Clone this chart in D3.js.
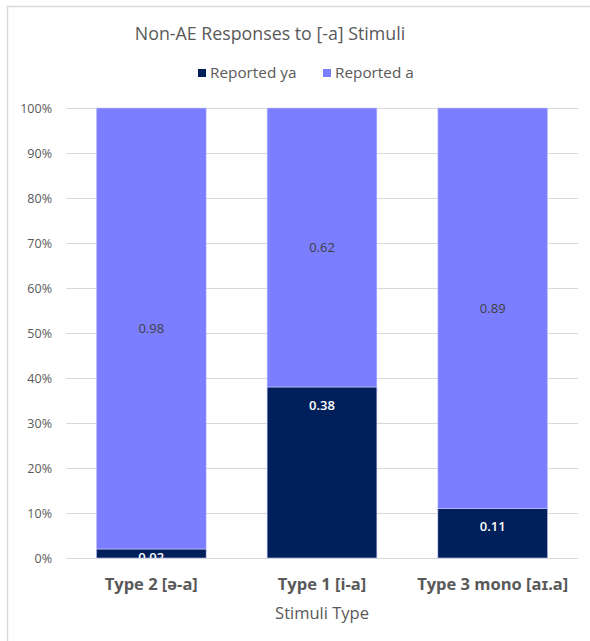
<!DOCTYPE html>
<html>
<head>
<meta charset="utf-8">
<script src="https://cdn.jsdelivr.net/npm/d3@7"></script>
<style>
  html, body { margin: 0; padding: 0; background: #fff; }
  svg { display: block; font-family: "Open Sans", "Noto Sans", sans-serif; }
</style>
</head>
<body>
<svg id="chart" width="590" height="641"></svg>
<script>
// Stimulus categories along the x axis
const categories = ["Type 2 [ə-a]", "Type 1 [i-a]", "Type 3 mono [aɪ.a]"];
// Proportion of responses per category, stacked bottom to top
const reportedYa = [0.02, 0.38, 0.11];
const reportedA  = [0.98, 0.62, 0.89];
const seriesNames = ["Reported ya", "Reported a"];
const seriesColors = ["#00205b", "#7b7fff"];
const yTicks = [0, 0.1, 0.2, 0.3, 0.4, 0.5, 0.6, 0.7, 0.8, 0.9, 1.0];

const svg = d3.select("#chart");
const W = 590, H = 641;
const margin = { left: 66, right: 12, top: 108, bottom: 83 };

// Chart frame (top and left edges visible)
svg.append("line").attr("x1", 7).attr("x2", W).attr("y1", 6.5).attr("y2", 6.5)
  .attr("stroke", "#d9d9d9").attr("stroke-width", 1.5);
svg.append("line").attr("x1", 7.5).attr("x2", 7.5).attr("y1", 6).attr("y2", H)
  .attr("stroke", "#d9d9d9").attr("stroke-width", 1.5);

const x = d3.scaleBand().domain(categories)
  .range([margin.left, W - margin.right]).paddingInner(0.357).paddingOuter(0.178);
const y = d3.scaleLinear().domain([0, 1]).range([H - margin.bottom, margin.top]);

// Gridlines
svg.append("g").selectAll("line").data(yTicks).join("line")
  .attr("x1", margin.left).attr("x2", W - margin.right)
  .attr("y1", d => Math.round(y(d)) + 0.5).attr("y2", d => Math.round(y(d)) + 0.5)
  .attr("stroke", "#d9d9d9").attr("stroke-width", 1);

// Y axis labels
const yAxis = d3.axisLeft(y).tickValues(yTicks).tickFormat(d3.format(".0%")).tickSize(0).tickPadding(14);
const yg = svg.append("g").attr("transform", `translate(${margin.left},0)`).call(yAxis);
yg.select(".domain").remove();
yg.selectAll("text").attr("fill", "#595959").style("font-size", "12.5px")
  .style("font-family", "'Open Sans', sans-serif");

// Stack the two series
const rows = categories.map((c, i) => ({ cat: c, ya: reportedYa[i], a: reportedA[i] }));
const stack = d3.stack().keys(["ya", "a"]);
const stacked = stack(rows);

const clip = svg.append("defs").append("clipPath").attr("id", "plotClip");
clip.append("rect").attr("x", margin.left).attr("y", margin.top - 2)
  .attr("width", W - margin.left - margin.right).attr("height", H - margin.top - margin.bottom + 2);

const bars = svg.append("g");
stacked.forEach((layer, li) => {
  bars.append("g").selectAll("rect").data(layer).join("rect")
    .attr("x", d => x(d.data.cat))
    .attr("width", x.bandwidth())
    .attr("y", d => y(d[1]))
    .attr("height", d => y(d[0]) - y(d[1]))
    .attr("fill", seriesColors[li])
    .attr("stroke", "#c8caff").attr("stroke-width", 0.6);
});

// Value labels
const labels = svg.append("g").attr("clip-path", "url(#plotClip)")
  .style("font-size", "13px").attr("text-anchor", "middle");
// "Reported ya" labels sit near the top of the dark segment
labels.selectAll("text.ya").data(stacked[0]).join("text")
  .attr("class", "ya")
  .attr("x", d => x(d.data.cat) + x.bandwidth() / 2)
  .attr("y", d => Math.min(y(d[1]) + 18, y(0) - 1))
  .attr("dy", "0.35em")
  .attr("fill", "#ffffff")
  .style("font-weight", "600")
  .text(d => d3.format(".2f")(d[1] - d[0]));
// "Reported a" labels centred in the light segment
labels.selectAll("text.a").data(stacked[1]).join("text")
  .attr("class", "a")
  .attr("x", d => x(d.data.cat) + x.bandwidth() / 2)
  .attr("y", d => (y(d[0]) + y(d[1])) / 2)
  .attr("dy", "0.35em")
  .attr("fill", "#404040")
  .text(d => d3.format(".2f")(d[1] - d[0]));

// X axis category labels
const xAxis = d3.axisBottom(x).tickSize(0).tickPadding(20);
const xg = svg.append("g").attr("transform", `translate(0,${y(0)})`).call(xAxis);
xg.select(".domain").remove();
xg.selectAll("text").attr("fill", "#595959").style("font-size", "16.5px")
  .style("font-weight", "bold").style("font-family", "'Open Sans', sans-serif");

// Axis title
svg.append("text").attr("x", x.range()[0] + (x.range()[1] - x.range()[0]) / 2).attr("y", 619)
  .attr("text-anchor", "middle").attr("fill", "#595959").style("font-size", "16.5px")
  .text("Stimuli Type");

// Chart title
svg.append("text").attr("x", 270).attr("y", 40)
  .attr("text-anchor", "middle").attr("fill", "#595959").style("font-size", "17.8px")
  .text("Non-AE Responses to [-a] Stimuli");

// Legend
const legend = svg.append("g").style("font-size", "15.3px");
const legendX = [198, 323];
seriesNames.forEach((n, i) => {
  legend.append("rect").attr("x", legendX[i]).attr("y", 69).attr("width", 8).attr("height", 8)
    .attr("fill", seriesColors[i]);
  legend.append("text").attr("x", legendX[i] + 12).attr("y", 73).attr("dy", "0.35em")
    .attr("fill", "#595959").text(n);
});
</script>
</body>
</html>
